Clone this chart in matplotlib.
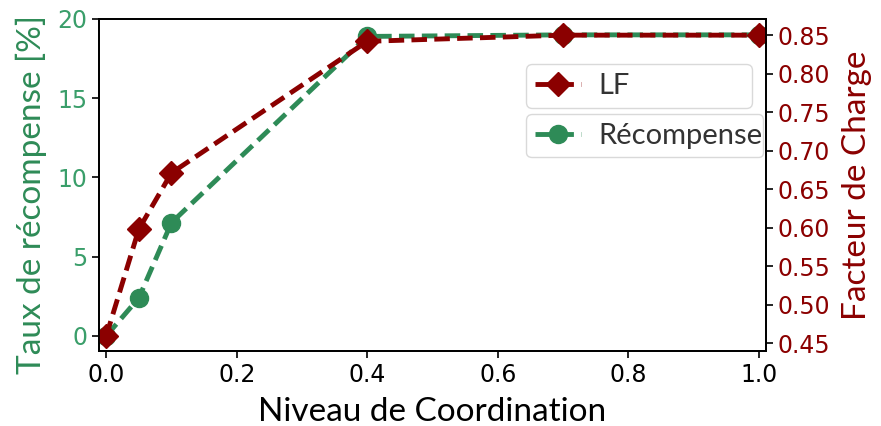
import matplotlib
matplotlib.use("Agg")
import matplotlib.pyplot as plt

# données
niveau = [0.0, 0.05, 0.1, 0.4, 0.7, 1.0]
recompense = [0.0, 2.4, 7.15, 18.9, 19.0, 19.0]
facteur_charge = [0.459, 0.598, 0.671, 0.842, 0.850, 0.850]

vert = "#2E8B57"
rouge = "#8B0000"
police = "Lato"

fig = plt.figure(figsize=(8.81, 4.26), dpi=100)
ax = fig.add_axes([0.1124, 0.176, 0.7571, 0.7794])
ax2 = ax.twinx()

l1, = ax.plot(niveau, recompense, color=vert, ls="--", lw=3.5, dashes=(3.2, 1.5),
              marker="o", ms=13, label="Récompense")
l2, = ax2.plot(niveau, facteur_charge, color=rouge, ls="--", lw=3.5, dashes=(3.2, 1.5),
               marker="D", ms=12.5, label="LF")

ax.set_xlim(-0.011, 1.011)
ax.set_ylim(-0.95, 20)
ax2.set_ylim(0.4396, 0.871)
ax.set_xticks([0.0, 0.2, 0.4, 0.6, 0.8, 1.0])
ax.set_yticks([0, 5, 10, 15, 20])
ax2.set_yticks([0.45, 0.50, 0.55, 0.60, 0.65, 0.70, 0.75, 0.80, 0.85])

ax.set_xlabel("Niveau de Coordination", fontsize=24, family=police, color="black", labelpad=7)
ax.set_ylabel("Taux de récompense [%]", fontsize=24, family=police, color=vert, labelpad=7, y=0.47)
ax2.set_ylabel("Facteur de Charge", fontsize=24, family=police, color=rouge, labelpad=8)

ax.tick_params(axis="x", labelsize=17, colors="black", length=5, width=1.2)
ax.tick_params(axis="y", labelsize=17, labelcolor="#3A9E6A", length=5, width=1.2)
ax2.tick_params(axis="y", labelsize=17, labelcolor=rouge, length=5, width=1.2)
for a in (ax, ax2):
    for s in a.spines.values():
        s.set_linewidth(1.3)

# deux légendes séparées, posées sur l'axe de droite (au-dessus des courbes)
style_leg = dict(loc="upper left", mode="expand", borderaxespad=0, borderpad=0.3,
                 handlelength=1.6, handletextpad=0.6,
                 prop={"family": police, "size": 21}, labelcolor="#333333", edgecolor="#d0d0d0")
leg1 = ax2.legend(handles=[l2], bbox_to_anchor=(0.640, 0.735, 0.339, 0.129), **style_leg)
ax2.add_artist(leg1)
leg2 = ax2.legend(handles=[l1], bbox_to_anchor=(0.640, 0.584, 0.356, 0.13), **style_leg)

fig.savefig("out.png", dpi=100)
